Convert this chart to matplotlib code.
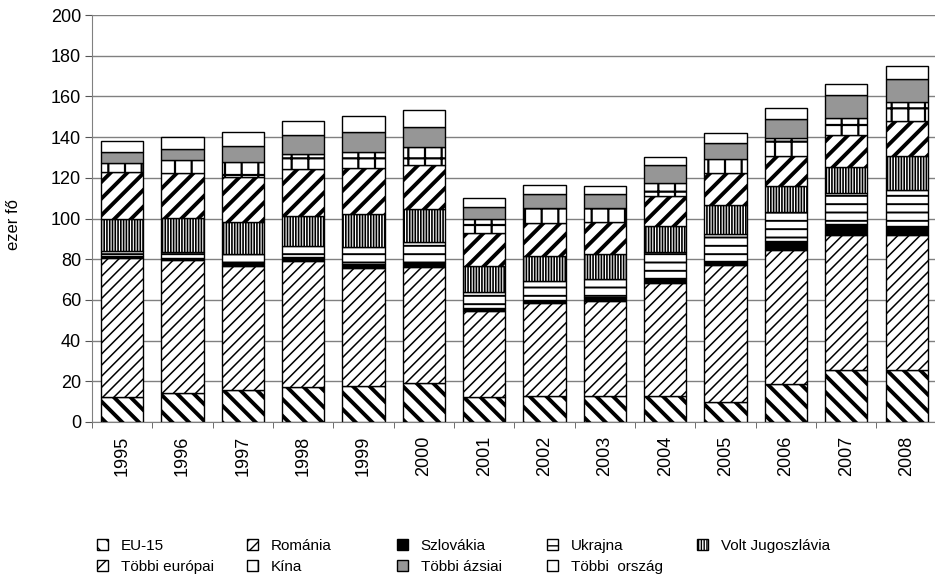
import numpy as np
import matplotlib.pyplot as plt

plt.rcParams['font.family'] = ['Liberation Sans', 'DejaVu Sans']

# Adatok (ezer fő)
years = ['1995', '1996', '1997', '1998', '1999', '2000', '2001',
         '2002', '2003', '2004', '2005', '2006', '2007', '2008']
eu15 = [12.4, 14.1, 15.7, 17.3, 17.8, 19.0, 12.4, 12.8, 12.8, 12.8, 10.0, 18.7, 25.6, 25.5]
romania = [68.0, 65.5, 61.2, 62.0, 57.7, 57.3, 42.1, 45.8, 46.7, 55.4, 67.1, 65.8, 66.3, 66.4]
szlovakia = [1.3, 0.8, 1.2, 1.9, 2.1, 2.0, 1.7, 1.4, 2.1, 2.4, 2.0, 4.4, 5.4, 4.4]
ukrajna = [2.5, 3.3, 4.5, 5.3, 8.5, 10.3, 7.8, 9.3, 8.5, 13.1, 13.1, 14.4, 15.4, 17.7]
jugoszlavia = [15.4, 16.4, 15.8, 14.7, 16.0, 15.9, 12.8, 12.3, 12.3, 12.6, 14.4, 12.7, 12.8, 16.7]
europai = [23.4, 22.1, 22.1, 23.0, 22.6, 21.8, 16.2, 16.3, 16.0, 14.8, 15.6, 14.9, 15.5, 17.3]
kina = [4.4, 6.5, 7.4, 7.3, 7.8, 8.7, 6.6, 7.1, 6.6, 6.5, 7.0, 8.8, 8.5, 9.1]
azsiai = [5.1, 5.5, 7.7, 9.5, 10.2, 10.1, 6.2, 7.0, 7.0, 8.7, 8.0, 9.2, 11.2, 11.3]
egyeb = [5.6, 5.7, 6.9, 7.1, 7.5, 8.0, 4.2, 4.4, 3.9, 3.8, 5.0, 5.5, 5.3, 6.3]

labels = ['EU-15', 'Románia', 'Szlovákia', 'Ukrajna', 'Volt Jugoszlávia',
          'Többi európai', 'Kína', 'Többi ázsiai', 'Többi  ország']
series = [eu15, romania, szlovakia, ukrajna, jugoszlavia, europai, kina, azsiai, egyeb]

# kitöltés, minta, mintavastagság
styles = [('white', '\\\\', 2.8),
          ('white', '///', 1.1),
          ('black', None, 1.0),
          ('white', '--', 1.4),
          ('white', '||||||', 1.2),
          ('white', '//', 2.8),
          ('white', '+', 1.6),
          ('#969696', None, 1.0),
          ('white', None, 1.0)]

fig = plt.figure(figsize=(9.35, 5.75), dpi=100)
ax = fig.add_axes([92/935, 1 - 422/575, 843/935, 407/575])

x = np.arange(len(years))
bottom = np.zeros(len(years))
handles = []
for vals, (fc, hatch, hlw) in zip(series, styles):
    with plt.rc_context({'hatch.linewidth': hlw}):
        bars = ax.bar(x, vals, 0.7, bottom=bottom, color=fc, edgecolor='black',
                      linewidth=1.0, hatch=hatch, zorder=3)
    for b in bars:
        if hasattr(b, 'set_hatch_linewidth'):
            b.set_hatch_linewidth(hlw)
    handles.append(bars[0])
    bottom += np.array(vals)

ax.set_xlim(-0.5, 13.47)
ax.set_ylim(0, 200)
ax.set_yticks(np.arange(0, 201, 20))
ax.yaxis.grid(True, color='#808080', linewidth=1.0, zorder=0)
ax.set_axisbelow(True)

ax.set_xticks(x)
ax.set_xticklabels(years, rotation=90, fontsize=13)
ax.set_xticks(np.arange(-0.5, 13.5, 1), minor=True)
ax.tick_params(axis='x', which='major', length=0, pad=10)
ax.tick_params(axis='x', which='minor', length=4, color='#555555')
ax.tick_params(axis='y', length=5, color='#555555', labelsize=13, pad=3)

for s in ['top', 'right']:
    ax.spines[s].set_visible(False)
for s in ['left', 'bottom']:
    ax.spines[s].set_color('#808080')

fig.text(0.014, 0.61, 'ezer fő', rotation=90, ha='center', va='center', fontsize=12)

# jelmagyarázat: öt oszlop, soronként töltve
col_x = [97, 247, 397, 547, 697]
for c in range(5):
    idx = [i for i in (c, c + 5) if i < len(labels)]
    leg = fig.legend([handles[i] for i in idx], [labels[i] for i in idx],
                     loc='upper left', bbox_to_anchor=(col_x[c] / 935, 1 - 539 / 575),
                     frameon=False, fontsize=11, handlelength=0.75, handleheight=0.75,
                     handletextpad=0.8, labelspacing=0.45, borderpad=0, borderaxespad=0)
    for h, i in zip(leg.legend_handles, idx):
        if hasattr(h, 'set_hatch_linewidth'):
            h.set_hatch_linewidth(min(styles[i][2], 1.0))

plt.savefig('out.png', dpi=100)
